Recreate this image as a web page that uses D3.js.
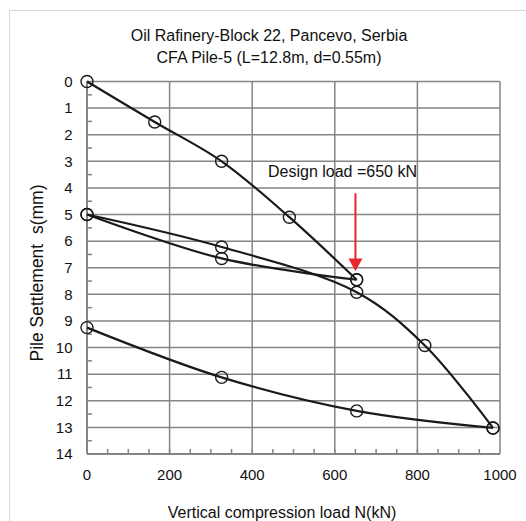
<!DOCTYPE html>
<html>
<head>
<meta charset="utf-8">
<script src="https://cdn.jsdelivr.net/npm/d3@7"></script>
<style>
  body { margin: 0; background: #fff; }
  text { font-family: "Liberation Sans", Arial, sans-serif; fill: #111; }
</style>
</head>
<body>
<svg id="chart-area"></svg>
<script>
// load steps (kN) and settlements (mm)
const loadUp1 = [0, 164, 326, 490, 653]
const settleUp1 = [0, 1.52, 3.0, 5.1, 7.45]

const loadDown1 = [653, 326, 0]
const settleDown1 = [7.45, 6.65, 5.0]

const loadUp2 = [0, 326, 653, 818, 983]
const settleUp2 = [5.0, 6.22, 7.92, 9.92, 13.02]

const loadDown2 = [983, 653, 326, 0]
const settleDown2 = [13.02, 12.38, 11.12, 9.25]

const xTicks = [0, 200, 400, 600, 800, 1000]
const yTicks = d3.range(0, 15)
const designLoad = 650

function drawChart() {
    const width = 526
    const height = 521

    const svg = d3.select("#chart-area")
        .attr("width", width)
        .attr("height", height)

    // outer frame
    svg.append("rect")
        .attr("x", 9.5).attr("y", 10.5)
        .attr("width", 600).attr("height", 600)
        .attr("fill", "none")
        .attr("stroke", "#d9d9d9")
        .attr("stroke-width", 1)

    const x = d3.scaleLinear().domain([0, 1000]).range([87, 500])
    const y = d3.scaleLinear().domain([0, 14]).range([81.5, 454])

    const grid = svg.append("g").attr("stroke", "#858585").attr("stroke-width", 1.5)

    grid.selectAll(".hgrid")
        .data(yTicks.slice(0, -1))
        .enter().append("line")
        .attr("x1", x(0)).attr("x2", x(1000))
        .attr("y1", d => y(d)).attr("y2", d => y(d))

    grid.selectAll(".vgrid")
        .data(xTicks.slice(1))
        .enter().append("line")
        .attr("x1", d => x(d)).attr("x2", d => x(d))
        .attr("y1", y(0)).attr("y2", y(14))

    // minor ticks
    grid.selectAll(".ytick")
        .data(d3.range(0.5, 14, 1))
        .enter().append("line")
        .attr("x1", x(0)).attr("x2", x(0) + 5)
        .attr("y1", d => y(d)).attr("y2", d => y(d))

    grid.selectAll(".xtick")
        .data(d3.range(50, 1000, 50))
        .enter().append("line")
        .attr("x1", d => x(d)).attr("x2", d => x(d))
        .attr("y1", y(14)).attr("y2", y(14) - 5)

    // axes lines
    grid.append("line")
        .attr("x1", x(0)).attr("x2", x(0))
        .attr("y1", y(0)).attr("y2", y(14))
        .attr("stroke-width", 2)
    grid.append("line")
        .attr("x1", x(0)).attr("x2", x(1000))
        .attr("y1", y(14)).attr("y2", y(14))
        .attr("stroke-width", 2)

    // tick labels
    svg.selectAll(".ylabel")
        .data(yTicks)
        .enter().append("text")
        .attr("x", 72.5)
        .attr("y", d => y(d) + 5.3)
        .attr("text-anchor", "end")
        .attr("font-size", 15)
        .text(d => d)

    svg.selectAll(".xlabel")
        .data(xTicks)
        .enter().append("text")
        .attr("x", d => x(d))
        .attr("y", 480)
        .attr("text-anchor", "middle")
        .attr("font-size", 15)
        .text(d => d)

    // titles
    svg.append("text")
        .attr("x", 269).attr("y", 41)
        .attr("text-anchor", "middle")
        .attr("font-size", 16)
        .text("Oil Rafinery-Block 22, Pancevo, Serbia")
    svg.append("text")
        .attr("x", 269).attr("y", 63)
        .attr("text-anchor", "middle")
        .attr("font-size", 16)
        .text("CFA Pile-5 (L=12.8m, d=0.55m)")

    svg.append("text")
        .attr("x", 282).attr("y", 518)
        .attr("text-anchor", "middle")
        .attr("font-size", 16)
        .text("Vertical compression load N(kN)")

    svg.append("text")
        .attr("transform", "translate(43,273) rotate(-90)")
        .attr("text-anchor", "middle")
        .attr("font-size", 17.5)
        .text("Pile Settlement \u00a0s(mm)")

    // curves
    const line = d3.line()
        .x(d => x(d[0]))
        .y(d => y(d[1]))
        .curve(d3.curveCatmullRom.alpha(0.5))

    const series = [
        d3.zip(loadUp1, settleUp1),
        d3.zip(loadDown1, settleDown1),
        d3.zip(loadUp2, settleUp2),
        d3.zip(loadDown2, settleDown2)
    ]

    svg.selectAll(".curve")
        .data(series)
        .enter().append("path")
        .attr("d", line)
        .attr("fill", "none")
        .attr("stroke", "#1a1a1a")
        .attr("stroke-width", 2.2)

    svg.selectAll(".pt")
        .data(series.flat())
        .enter().append("circle")
        .attr("cx", d => x(d[0]))
        .attr("cy", d => y(d[1]))
        .attr("r", 6)
        .attr("fill", "none")
        .attr("stroke", "#1a1a1a")
        .attr("stroke-width", 1.4)

    // design load annotation
    svg.append("text")
        .attr("x", 268).attr("y", 176.5)
        .attr("font-size", 16)
        .text("Design load =650 kN")

    const ax = x(designLoad)
    svg.append("line")
        .attr("x1", ax).attr("x2", ax)
        .attr("y1", y(4.2)).attr("y2", y(6.7))
        .attr("stroke", "#e8262b")
        .attr("stroke-width", 2)
    svg.append("path")
        .attr("d", `M${ax - 7},${y(6.65)} L${ax + 7},${y(6.65)} L${ax},${y(7.13)} Z`)
        .attr("fill", "#e8262b")
}

drawChart()
</script>
</body>
</html>
